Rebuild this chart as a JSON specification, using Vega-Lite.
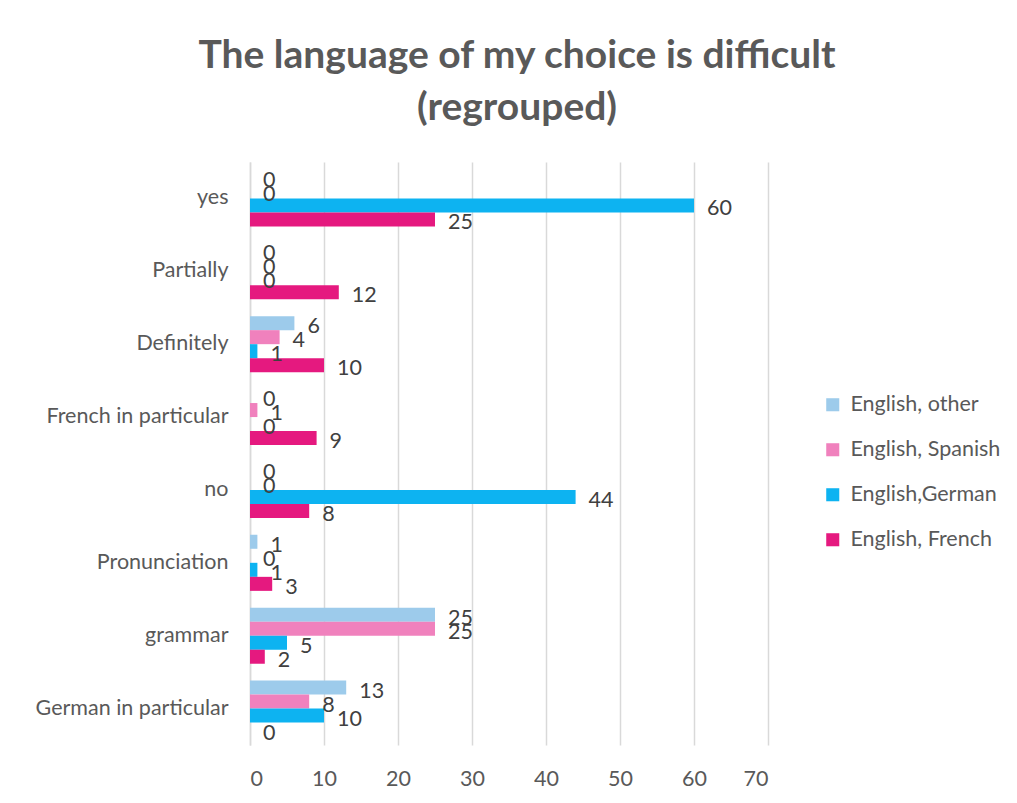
{
  "$schema": "https://vega.github.io/schema/vega-lite/v6.json",
  "autosize": {"type": "none"},
  "width": 518,
  "height": 583,
  "padding": {"left": 250, "top": 162, "right": 249, "bottom": 58},
  "background": "white",
  "title": {
    "text": ["The language of my choice is difficult", "(regrouped)"],
    "font": "Lato",
    "fontSize": 39,
    "fontWeight": "bold",
    "color": "#595959",
    "lineHeight": 52,
    "anchor": "middle",
    "frame": "group",
    "dx": 8,
    "offset": 34
  },
  "data": {
    "values": [
      {"category": "yes", "series": "English, other", "value": 0},
      {"category": "yes", "series": "English, Spanish", "value": 0},
      {"category": "yes", "series": "English,German", "value": 60},
      {"category": "yes", "series": "English, French", "value": 25},
      {"category": "Partially", "series": "English, other", "value": 0},
      {"category": "Partially", "series": "English, Spanish", "value": 0},
      {"category": "Partially", "series": "English,German", "value": 0},
      {"category": "Partially", "series": "English, French", "value": 12},
      {"category": "Definitely", "series": "English, other", "value": 6},
      {"category": "Definitely", "series": "English, Spanish", "value": 4},
      {"category": "Definitely", "series": "English,German", "value": 1},
      {"category": "Definitely", "series": "English, French", "value": 10},
      {"category": "French in particular", "series": "English, other", "value": 0},
      {"category": "French in particular", "series": "English, Spanish", "value": 1},
      {"category": "French in particular", "series": "English,German", "value": 0},
      {"category": "French in particular", "series": "English, French", "value": 9},
      {"category": "no", "series": "English, other", "value": 0},
      {"category": "no", "series": "English, Spanish", "value": 0},
      {"category": "no", "series": "English,German", "value": 44},
      {"category": "no", "series": "English, French", "value": 8},
      {"category": "Pronunciation", "series": "English, other", "value": 1},
      {"category": "Pronunciation", "series": "English, Spanish", "value": 0},
      {"category": "Pronunciation", "series": "English,German", "value": 1},
      {"category": "Pronunciation", "series": "English, French", "value": 3},
      {"category": "grammar", "series": "English, other", "value": 25},
      {"category": "grammar", "series": "English, Spanish", "value": 25},
      {"category": "grammar", "series": "English,German", "value": 5},
      {"category": "grammar", "series": "English, French", "value": 2},
      {"category": "German in particular", "series": "English, other", "value": 13},
      {"category": "German in particular", "series": "English, Spanish", "value": 8},
      {"category": "German in particular", "series": "English,German", "value": 10},
      {"category": "German in particular", "series": "English, French", "value": 0}
    ]
  },
  "encoding": {
    "y": {
      "field": "category",
      "type": "nominal",
      "sort": ["yes", "Partially", "Definitely", "French in particular", "no", "Pronunciation", "grammar", "German in particular"],
      "scale": {"paddingInner": 0.23, "paddingOuter": 0.115},
      "axis": {
        "title": null,
        "domain": true,
        "domainColor": "#D9D9D9",
        "domainWidth": 1.5,
        "ticks": false,
        "labelPadding": 22,
        "labelLimit": 0,
        "labelFont": "Lato",
        "labelFontSize": 21.5,
        "labelColor": "#595959"
      }
    },
    "yOffset": {
      "field": "series",
      "type": "nominal",
      "sort": ["English, other", "English, Spanish", "English,German", "English, French"]
    },
    "x": {
      "field": "value",
      "type": "quantitative",
      "scale": {"domain": [0, 70]},
      "axis": {
        "title": null,
        "values": [0, 10, 20, 30, 40, 50, 60, 70],
        "grid": true,
        "gridColor": "#D9D9D9",
        "gridWidth": 1.5,
        "domain": false,
        "ticks": false,
        "labelPadding": 23,
        "labelFont": "Lato",
        "labelFontSize": 21.5,
        "labelColor": "#595959"
      }
    }
  },
  "layer": [
    {
      "mark": {"type": "bar", "cornerRadius": 0},
      "encoding": {
        "color": {
          "field": "series",
          "type": "nominal",
          "sort": ["English, other", "English, Spanish", "English,German", "English, French"],
          "scale": {
            "domain": ["English, other", "English, Spanish", "English,German", "English, French"],
            "range": ["#9DCBEB", "#F081BD", "#0DB3F1", "#E5197F"]
          },
          "legend": {
            "title": null,
            "orient": "none",
            "legendX": 572,
            "legendY": 232,
            "symbolType": "square",
            "symbolSize": 170,
            "symbolStrokeWidth": 0,
            "labelFont": "Lato",
            "labelFontSize": 21.5,
            "labelLimit": 0,
            "labelColor": "#595959",
            "labelOffset": 7,
            "rowPadding": 22
          }
        }
      }
    },
    {
      "mark": {"type": "text", "align": "left", "baseline": "middle", "dx": 13, "dy": 4, "font": "Lato", "fontSize": 21.5, "color": "#404040"},
      "encoding": {
        "text": {"field": "value", "type": "quantitative"}
      }
    }
  ],
  "config": {
    "view": {"stroke": null}
  }
}
